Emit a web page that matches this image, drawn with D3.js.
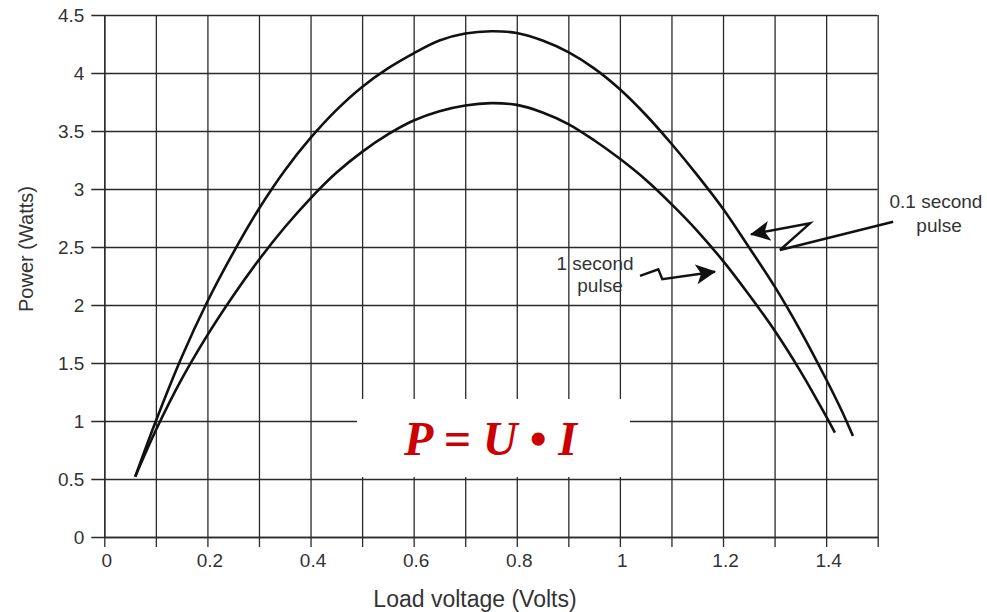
<!DOCTYPE html>
<html>
<head>
<meta charset="utf-8">
<script src="https://cdn.jsdelivr.net/npm/d3@7"></script>
<style>
  html, body { margin: 0; padding: 0; background: #fff; }
  svg { display: block; }
</style>
</head>
<body>
<svg id="chart" width="987" height="612"></svg>
<script>
// ---- data ----
// 0.1 second pulse (upper curve)
const voltShort = [0.06, 0.10, 0.15, 0.20, 0.25, 0.30, 0.35, 0.40, 0.45, 0.50, 0.55, 0.60, 0.65, 0.70, 0.75, 0.80, 0.85, 0.90, 0.95, 1.00, 1.05, 1.10, 1.15, 1.20, 1.25, 1.30, 1.35, 1.40, 1.43, 1.452];
const powerShort = [0.52, 1.00, 1.55, 2.03, 2.45, 2.83, 3.16, 3.44, 3.68, 3.88, 4.04, 4.17, 4.28, 4.34, 4.36, 4.345, 4.28, 4.18, 4.04, 3.86, 3.64, 3.39, 3.12, 2.83, 2.50, 2.16, 1.78, 1.36, 1.09, 0.87];

// 1 second pulse (lower curve)
const voltLong = [0.06, 0.10, 0.15, 0.20, 0.25, 0.30, 0.35, 0.40, 0.45, 0.50, 0.55, 0.60, 0.65, 0.70, 0.75, 0.80, 0.85, 0.90, 0.95, 1.00, 1.05, 1.10, 1.15, 1.20, 1.25, 1.30, 1.35, 1.40, 1.417];
const powerLong = [0.52, 0.92, 1.36, 1.74, 2.08, 2.39, 2.67, 2.92, 3.14, 3.32, 3.47, 3.59, 3.67, 3.72, 3.74, 3.725, 3.66, 3.56, 3.42, 3.26, 3.08, 2.87, 2.64, 2.38, 2.09, 1.78, 1.43, 1.04, 0.90];

const xGrid = d3.range(0, 16).map(i => i / 10);          // 0 .. 1.5 step 0.1
const xTickLabels = ["0", "0.2", "0.4", "0.6", "0.8", "1", "1.2", "1.4"];
const yGrid = d3.range(0, 10).map(i => i / 2);           // 0 .. 4.5 step 0.5
const yTickLabels = ["0", "0.5", "1", "1.5", "2", "2.5", "3", "3.5", "4", "4.5"];

const xTitle = "Load voltage (Volts)";
const yTitle = "Power (Watts)";
const equation = "P = U \u2022 I";

// annotation arrows (data units: volts, watts)
const arrowShortV = [1.530, 1.3105, 1.3687, 1.2542];
const arrowShortP = [2.718, 2.474, 2.704, 2.609];
const arrowLongV = [1.039, 1.0745, 1.0822, 1.1844];
const arrowLongP = [2.252, 2.308, 2.222, 2.287];
const labelShort = ["0.1 second", "pulse"];
const labelLong = ["1 second", "pulse"];

// ---- layout ----
const svg = d3.select("#chart");
const mLeft = 104.3, mRight = 877.7, mTop = 15, mBottom = 537;
const x = d3.scaleLinear().domain([0, 1.5]).range([mLeft, mRight]);
const y = d3.scaleLinear().domain([0, 4.5]).range([mBottom, mTop]);
const plotW = mRight - mLeft, plotH = mBottom - mTop;

svg.append("rect").attr("width", 987).attr("height", 612).attr("fill", "#fff");

// x grid + axis
const gx = svg.append("g")
  .attr("transform", `translate(0,${mBottom})`)
  .call(d3.axisBottom(x).tickValues(xGrid).tickSizeInner(-plotH).tickSizeOuter(0)
    .tickFormat((d, i) => (i % 2 === 0 ? xTickLabels[i / 2] : "")));
gx.select(".domain").attr("stroke", "#2a2a2a").attr("stroke-width", 1.3);
gx.selectAll(".tick line").attr("y1", 10).attr("stroke", "#2a2a2a").attr("stroke-width", 1.3);
gx.selectAll(".tick text")
  .attr("y", 30).attr("dy", 0).attr("dx", 2)
  .attr("fill", "#333")
  .style("font-family", "'Liberation Sans', Arial, sans-serif")
  .style("font-size", "19px");

// y grid + axis
const gy = svg.append("g")
  .attr("transform", `translate(${mLeft},0)`)
  .call(d3.axisLeft(y).tickValues(yGrid).tickSizeInner(-plotW).tickSizeOuter(0)
    .tickFormat((d, i) => yTickLabels[i]));
gy.select(".domain").attr("stroke", "#2a2a2a").attr("stroke-width", 1.3);
gy.selectAll(".tick line").attr("x1", -13).attr("stroke", "#2a2a2a").attr("stroke-width", 1.3);
gy.selectAll(".tick text")
  .attr("x", -20).attr("dy", "0.36em")
  .attr("fill", "#333")
  .style("font-family", "'Liberation Sans', Arial, sans-serif")
  .style("font-size", "19px");

// axis titles
svg.append("text")
  .attr("x", 475).attr("y", 607)
  .attr("text-anchor", "middle")
  .attr("fill", "#333")
  .style("font-family", "'Liberation Sans', Arial, sans-serif")
  .style("font-size", "23px")
  .text(xTitle);
svg.append("text")
  .attr("transform", `translate(33,${(mTop + mBottom) / 2 - 27}) rotate(-90)`)
  .attr("text-anchor", "middle")
  .attr("fill", "#333")
  .style("font-family", "'Liberation Sans', Arial, sans-serif")
  .style("font-size", "20px")
  .text(yTitle);

// curves
const line = d3.line().x(d => x(d[0])).y(d => y(d[1])).curve(d3.curveCatmullRom.alpha(0.5));
svg.append("path")
  .datum(d3.zip(voltShort, powerShort))
  .attr("d", line).attr("fill", "none").attr("stroke", "#111").attr("stroke-width", 2.6);
svg.append("path")
  .datum(d3.zip(voltLong, powerLong))
  .attr("d", line).attr("fill", "none").attr("stroke", "#111").attr("stroke-width", 2.6);

// equation box
svg.append("rect")
  .attr("x", x(0.490)).attr("y", y(1.19))
  .attr("width", x(1.0196) - x(0.490)).attr("height", y(0.517) - y(1.19))
  .attr("fill", "#fff");
svg.append("text")
  .attr("x", x(0.749)).attr("y", y(0.707))
  .attr("text-anchor", "middle")
  .attr("fill", "#cc0000")
  .style("font-family", "'Liberation Serif', 'Times New Roman', serif")
  .style("font-weight", "bold").style("font-style", "italic")
  .style("font-size", "48px")
  .style("white-space", "pre")
  .text(equation);

// arrow marker
svg.append("defs").append("marker")
  .attr("id", "ah").attr("markerUnits", "userSpaceOnUse")
  .attr("viewBox", "0 -11 20 22").attr("refX", 19).attr("refY", 0)
  .attr("markerWidth", 20).attr("markerHeight", 22).attr("orient", "auto")
  .append("path").attr("d", "M0,-10 L20,0 L0,10 L5,0 Z").attr("fill", "#111");

const aline = d3.line().x(d => x(d[0])).y(d => y(d[1]));
svg.append("path").datum(d3.zip(arrowShortV, arrowShortP))
  .attr("d", aline).attr("fill", "none").attr("stroke", "#111").attr("stroke-width", 2.4)
  .attr("stroke-linejoin", "miter").attr("marker-end", "url(#ah)");
svg.append("path").datum(d3.zip(arrowLongV, arrowLongP))
  .attr("d", aline).attr("fill", "none").attr("stroke", "#111").attr("stroke-width", 2.4)
  .attr("stroke-linejoin", "miter").attr("marker-end", "url(#ah)");

// annotation labels
const lblStyle = s => s.attr("text-anchor", "middle").attr("fill", "#333")
  .style("font-family", "'Liberation Sans', Arial, sans-serif").style("font-size", "19px");
svg.append("text").attr("x", x(1.613)).attr("y", y(2.836)).call(lblStyle).text(labelShort[0]);
svg.append("text").attr("x", x(1.619)).attr("y", y(2.63)).call(lblStyle).text(labelShort[1]);
svg.append("text").attr("x", x(0.9517)).attr("y", y(2.306)).call(lblStyle).text(labelLong[0]);
svg.append("text").attr("x", x(0.9614)).attr("y", y(2.112)).call(lblStyle).text(labelLong[1]);
</script>
</body>
</html>
